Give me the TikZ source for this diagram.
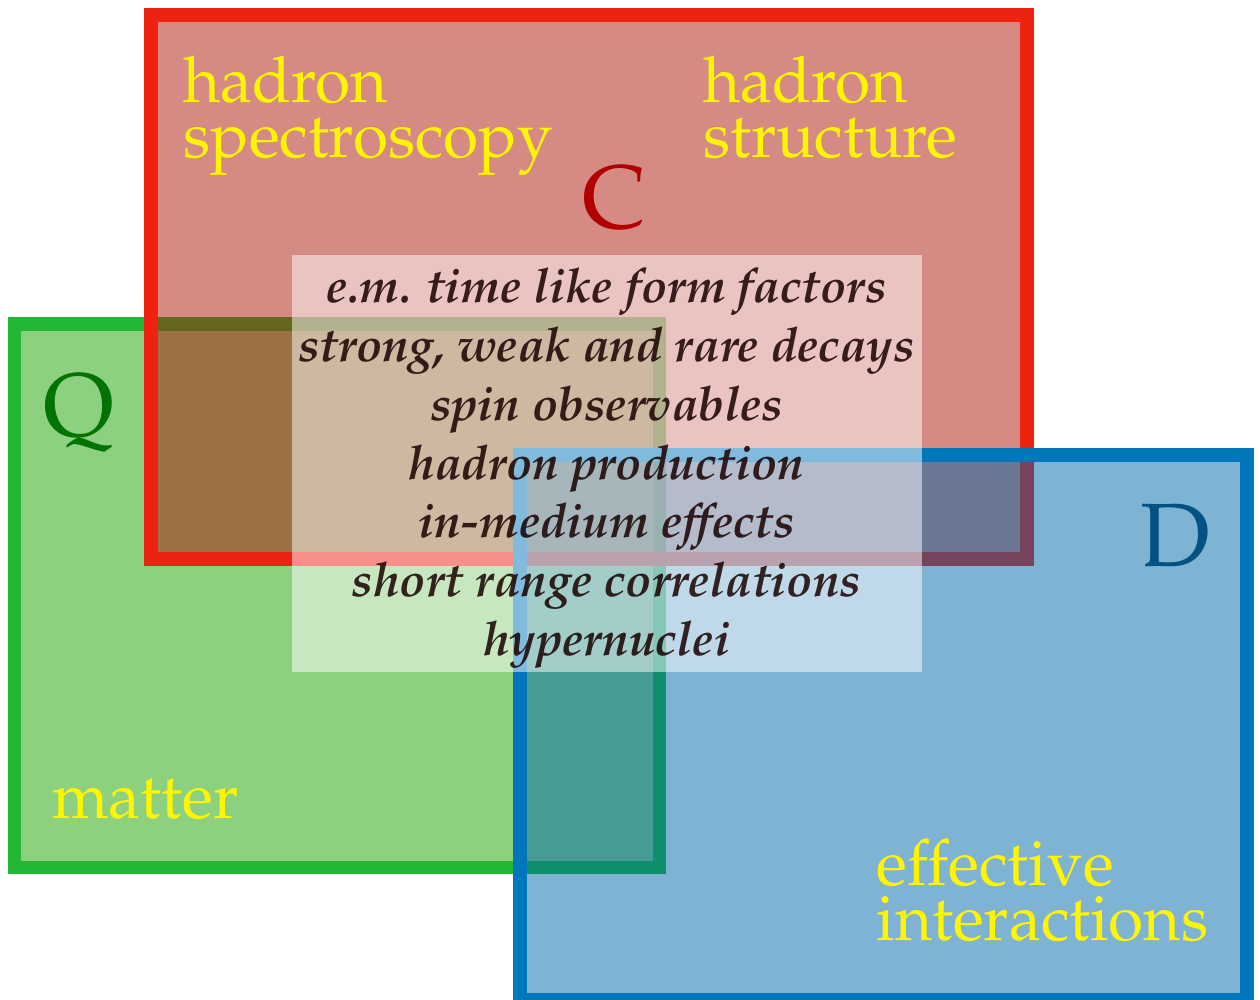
\documentclass[tikz,border=0pt]{standalone}
\usepackage[T1]{fontenc}
\usepackage{mathpazo}
\usepackage{xcolor}
\definecolor{cred}{RGB}{238,34,17}
\definecolor{credfill}{RGB}{172,22,9}
\definecolor{qgreen}{RGB}{34,184,51}
\definecolor{qgreenfill}{RGB}{27,161,1}
\definecolor{dblue}{RGB}{0,119,187}
\definecolor{dbluefill}{RGB}{0,103,169}
\definecolor{labelyellow}{RGB}{255,245,0}

\begin{document}
\begin{tikzpicture}[x=0.5pt, y=-0.5pt,
    area/.style={line width=6.75pt, fill opacity=0.5, draw opacity=1},
    word/.style={inner sep=0pt, anchor=base west, text=labelyellow, font=\fontsize{32}{38}\selectfont},
    tag/.style={inner sep=0pt, anchor=base, font=\fontsize{45}{50}\selectfont},
    topic/.style={inner sep=0pt, anchor=base, text=black!90!red, text opacity=0.85, font=\fontsize{23.9}{28}\selectfont\bfseries\itshape}]

\useasboundingbox (0,0) rectangle (1260,1000);

% the three overlapping fields
\draw [area, draw=qgreen, fill=qgreenfill] (14.5,324) rectangle (659.5,867.5);
\draw [area, draw=cred, fill=credfill] (151,15) rectangle (1027,559);
\draw [area, draw=dblue, fill=dbluefill] (520,455) rectangle (1247,999.5);

% shared topics in the middle
\fill [white, fill opacity=0.5] (292,255) rectangle (922,672);
\foreach \txt [count=\i from 0] in {e.m. time like form factors, {strong, weak and rare decays}, spin observables, hadron production, in-medium effects, short range correlations, hypernuclei}
  \node [topic] (topic\i) at (606.5, {303+58.7*\i}) {\txt};

\node [tag, text=red!70!black] (tagC) at (614,229) {C};
\node [tag, text=green!45!black] (tagQ) at (79,437) {Q};
\node [tag, text=dblue!70!black] (tagD) at (1175,567) {D};

\node [word] (spec1) at (183,103) {hadron};
\node [word] (spec2) at (183,158) {spectroscopy};
\node [word] (struct1) at (703,103) {hadron};
\node [word] (struct2) at (703,158) {structure};
\node [word] (matter) at (52,818) {matter};
\node [word] (eff1) at (876,885) {effective};
\node [word] (eff2) at (876,940) {interactions};

\end{tikzpicture}
\end{document}
